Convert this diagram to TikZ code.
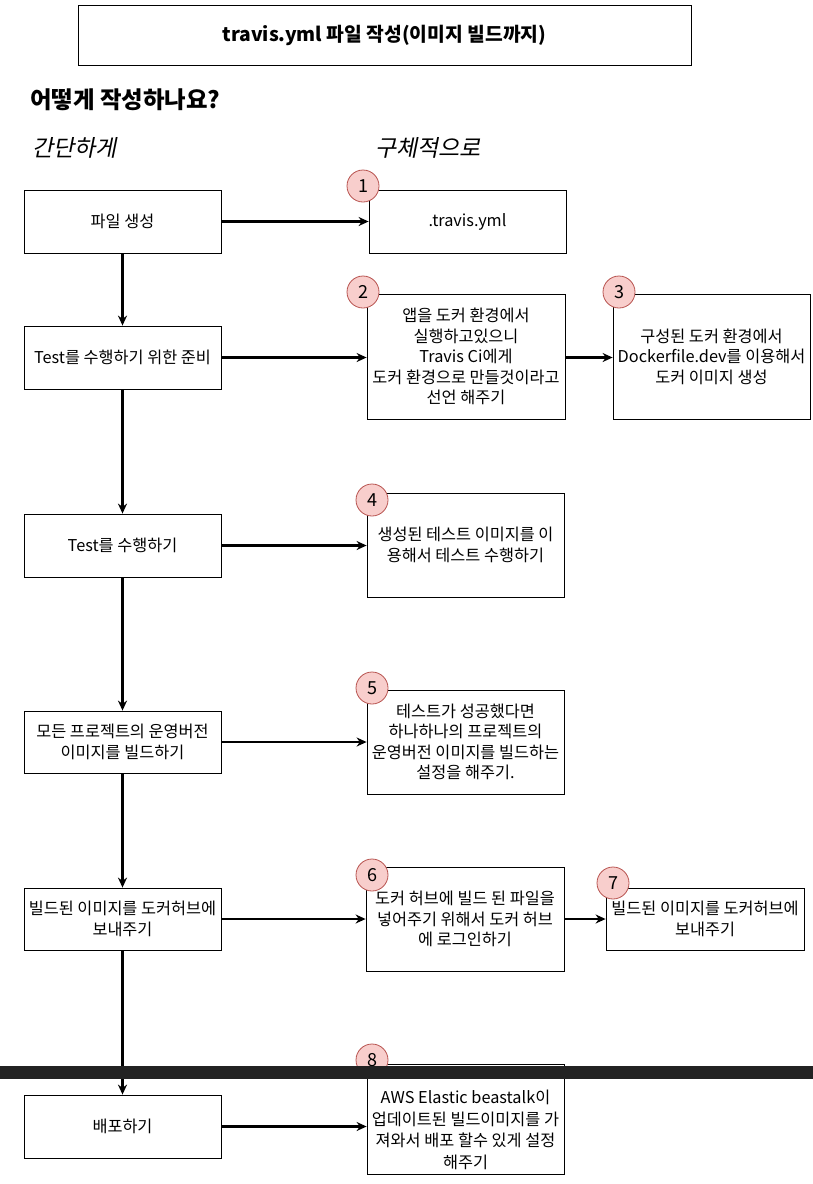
\documentclass[tikz,border=0pt]{standalone}
\usepackage{fontspec}
\setmainfont{Noto Sans CJK KR}
\newfontfamily\krit[FakeSlant=0.2]{Noto Sans CJK KR}
\usetikzlibrary{arrows.meta}
\definecolor{pinkfill}{HTML}{F8CECC}
\definecolor{pinkline}{HTML}{B85450}
\definecolor{barcol}{HTML}{222222}
\begin{document}
\begin{tikzpicture}[x=1pt,y=-1pt,
 box/.style={draw=black, line width=0.8pt, align=center, inner sep=0pt, font=\fontsize{16.3}{20.5}\selectfont},
 num/.style={circle, draw=pinkline, fill=pinkfill, line width=0.8pt, minimum size=32pt, inner sep=0pt, font=\fontsize{18}{18}\selectfont},
 arr/.style={-{Stealth[length=10pt,width=9pt]}, line width=2.2pt},
 plain/.style={inner sep=0pt, anchor=west}
]
\useasboundingbox (0,0) rectangle (813,1184);
\fill[white] (0,0) rectangle (813,1184);

% title
\node[box, minimum width=613pt, minimum height=60pt, font=\fontsize{19.3}{22}\selectfont\bfseries] (title) at (384.5,35) {travis.yml 파일 작성(이미지 빌드까지)};
\node[plain, font=\fontsize{23.4}{26}\selectfont\bfseries] (q) at (30,100) {어떻게 작성하나요?};
\node[plain, font=\fontsize{23}{26}\selectfont\krit] (h1) at (32,148) {간단하게};
\node[plain, font=\fontsize{23}{26}\selectfont\krit] (h2) at (375,148) {구체적으로};

% left column
\node[box, minimum width=197pt, minimum height=63pt] (a1) at (122.5,221.5) {파일 생성};
\node[box, minimum width=197pt, minimum height=63pt] (a2) at (122.5,357.5) {Test를 수행하기 위한 준비};
\node[box, minimum width=197pt, minimum height=63pt] (a3) at (122.5,545.5) {Test를 수행하기};
\node[box, minimum width=197pt, minimum height=62pt] (a4) at (122.5,742) {모든 프로젝트의 운영버전\\이미지를 빌드하기};
\node[box, minimum width=197pt, minimum height=62pt] (a5) at (122.5,919) {빌드된 이미지를 도커허브에\\보내주기};
\node[box, minimum width=197pt, minimum height=63pt] (a6) at (122.5,1126.5) {배포하기};

% right column
\node[box, minimum width=197pt, minimum height=63pt] (b1) at (467.5,221.5) {.travis.yml};
\node[box, minimum width=198pt, minimum height=125pt] (b2) at (466,356.5) {앱을 도커 환경에서\\실행하고있으니\\Travis Ci에게\\도커 환경으로 만들것이라고\\선언 해주기};
\node[box, minimum width=197pt, minimum height=125pt] (b3) at (711.5,356.5) {구성된 도커 환경에서\\Dockerfile.dev를 이용해서\\도커 이미지 생성};
\node[box, minimum width=197pt, minimum height=104pt] (b4) at (465.5,545) {생성된 테스트 이미지를 이\\용해서 테스트 수행하기};
\node[box, minimum width=197pt, minimum height=104pt] (b5) at (465.5,742) {테스트가 성공했다면\\하나하나의 프로젝트의\\운영버전 이미지를 빌드하는\\설정을 해주기.};
\node[box, minimum width=198pt, minimum height=104pt] (b6) at (465,919) {도커 허브에 빌드 된 파일을\\넣어주기 위해서 도커 허브\\에 로그인하기};
\node[box, minimum width=198pt, minimum height=62pt] (b7) at (705,919) {빌드된 이미지를 도커허브에\\보내주기};
\node[box, minimum width=197pt, minimum height=110pt] (b8) at (465.5,1119) {};
\node[inner sep=0pt, align=center, font=\fontsize{16.3}{21.5}\selectfont] (t8) at (465.5,1130) {AWS Elastic beastalk이\\업데이트된 빌드이미지를 가\\져와서 배포 할수 있게 설정\\해주기};

% numbers
\node[num] (c1) at (363,186) {1};
\node[num] (c2) at (363,292) {2};
\node[num] (c3) at (619,292) {3};
\node[num] (c4) at (372,500) {4};
\node[num] (c5) at (372,688) {5};
\node[num] (c6) at (372,875) {6};
\node[num] (c7) at (613,883) {7};
\node[num] (c8) at (372,1060) {8};

% arrows
\draw[arr] (a1) -- (a2);
\draw[arr] (a2) -- (a3);
\draw[arr] (a3) -- (a4);
\draw[arr] (a4) -- (a5);
\draw[arr] (a5) -- (a6);
\draw[arr] (a1) -- (b1);
\draw[arr] (a2.east) -- (a2.east -| b2.west);
\draw[arr] (a3.east) -- (a3.east -| b4.west);
\draw[arr] (a4) -- (b5);
\draw[arr] (a5) -- (b6);
\draw[arr] (a6.east) -- (a6.east -| b8.west);
\draw[arr] (b2.east |- a2.east) -- (b3.west |- a2.east);
\draw[arr] (b6) -- (b7);

% dark bar across the picture
\fill[barcol] (0,1066) rectangle (813,1079);
\end{tikzpicture}
\end{document}
